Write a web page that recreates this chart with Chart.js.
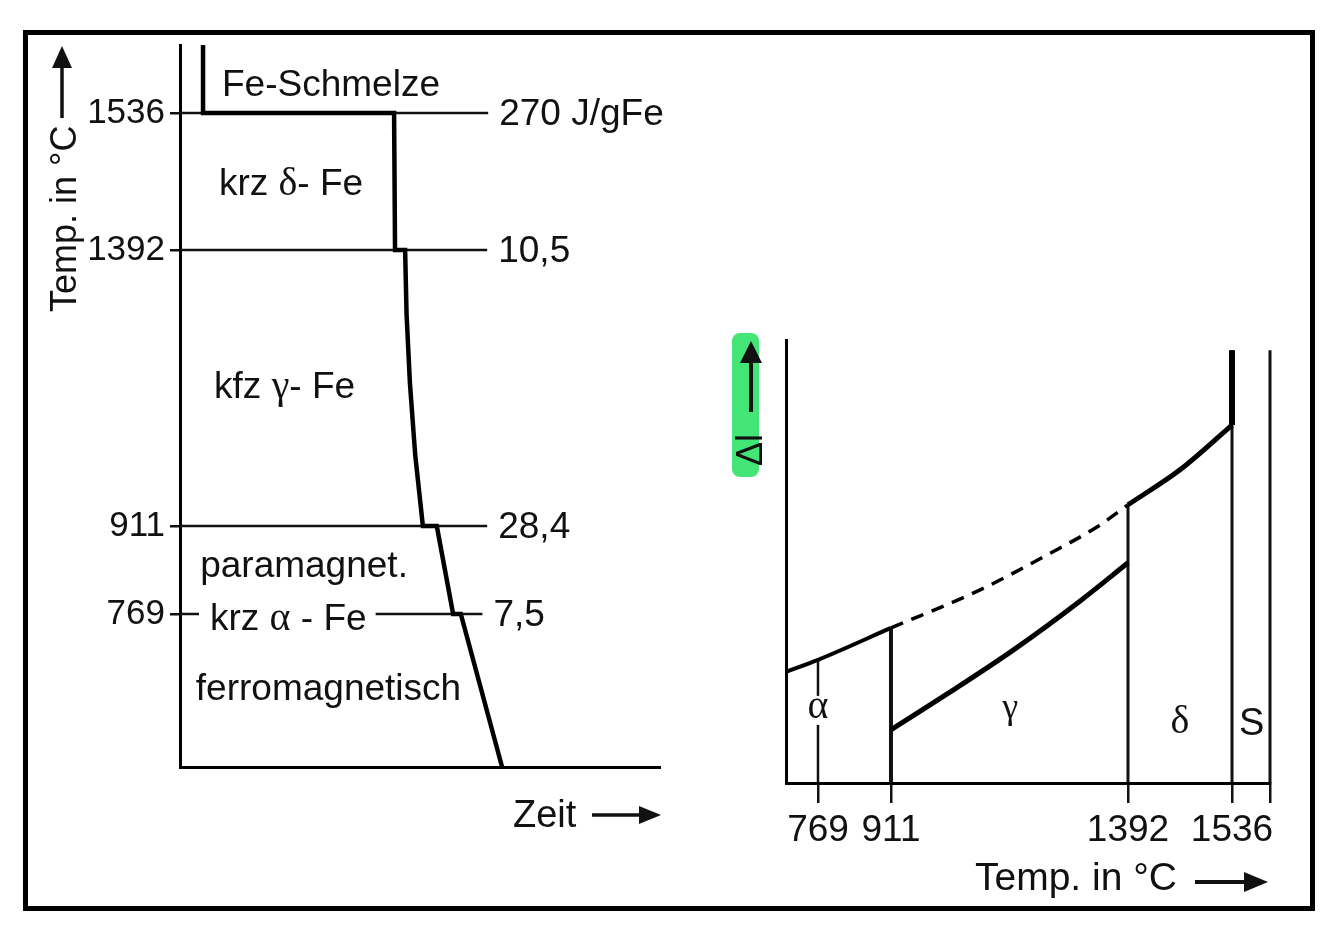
<!DOCTYPE html>
<html><head><meta charset="utf-8">
<script src="https://cdn.jsdelivr.net/npm/chart.js@4.4.1/dist/chart.umd.min.js"></script>
<style>
html,body{margin:0;padding:0;background:#fff;width:1335px;height:933px;overflow:hidden}
#frame{position:absolute;left:23px;top:30px;width:1282px;height:871px;border:5px solid #000}
canvas{position:absolute;left:0;top:0}
</style></head><body>
<div id="frame"></div>
<canvas id="c1" width="1335" height="933"></canvas>
<canvas id="c2" width="1335" height="933"></canvas>
<script>
// ---------------- data: left chart (cooling curve of pure iron) ----------------
const tempTicks = [1536, 1392, 911, 769];
const coolTime  = [4.8, 4.8, 44.6, 44.8, 46.9, 47.2, 47.9, 49.0, 50.6, 53.5, 56.9, 58.5, 67.1];
const coolTemp  = [1610, 1536, 1536, 1392, 1392, 1280, 1160, 1035, 911, 911, 769, 769, 520];
const isoTemp   = [1536, 1392, 911, 769];
const isoEnd    = [64.2, 64.0, 64.0, 63.0];
const heatLabels = ['270 J/gFe', '10,5', '28,4', '7,5'];

// ---------------- data: right chart (dilatometer curve) ----------------
const dilTicks = [769, 911, 1392, 1536, 1590];
const dilTickLabels = ['769', '911', '1392', '1536', ''];
const alphaT = [707, 769, 911],               alphaL = [25.1, 27.8, 35.0];
const dashT  = [911, 1092, 1228, 1329, 1392], dashL  = [35.0, 43.6, 51.5, 57.8, 62.8];
const gammaT = [911, 1025, 1159, 1295, 1392], gammaL = [12.0, 20.1, 30.0, 41.1, 49.7];
const deltaT = [1392, 1464, 1536],            deltaL = [62.8, 70.7, 80.8];
const phaseT   = [769, 911, 1392, 1536, 1590];
const phaseTop = [27.8, 35.0, 62.8, 97.7, 97.7];

const SANS = '"Liberation Sans", Arial, Helvetica, sans-serif';
const SERIF = '"Liberation Serif", "Times New Roman", serif';
const INK = '#111';

// ---------------- piecewise (schematic) scale ----------------
class PiecewiseScale extends Chart.LinearScale {
  _k() { return (this.options.knots || []).map(k => [k[0], k[1]]); }
  getPixelForValue(value) {
    const k = this._k();
    let i = 1;
    while (i < k.length - 1 && value > k[i][0]) i++;
    const a = k[i - 1], b = k[i];
    const f = a[1] + (value - a[0]) * (b[1] - a[1]) / (b[0] - a[0]);
    return this.getPixelForDecimal(f);
  }
  getValueForPixel(pixel) {
    const k = this._k();
    const f = this.getDecimalForPixel(pixel);
    let i = 1;
    while (i < k.length - 1 && f > k[i][1]) i++;
    const a = k[i - 1], b = k[i];
    return a[0] + (f - a[1]) * (b[0] - a[0]) / (b[1] - a[1]);
  }
}
PiecewiseScale.id = 'piecewise';
PiecewiseScale.defaults = Chart.LinearScale.defaults;
Chart.register(PiecewiseScale);

function pts(xs, ys) { return xs.map((x, i) => ({x: x, y: ys[i]})); }
function font(kind, size) { return size + 'px ' + (kind === 'r' ? SERIF : SANS); }
function runsWidth(ctx, runs, size) {
  let w = 0; runs.forEach(r => { ctx.font = font(r[1], r[2] || size); w += ctx.measureText(r[0]).width; }); return w;
}
function drawRuns(ctx, runs, x, y, size, align) {
  const w = runsWidth(ctx, runs, size);
  let cx = align === 'center' ? x - w / 2 : x;
  ctx.textAlign = 'left'; ctx.textBaseline = 'alphabetic'; ctx.fillStyle = INK;
  runs.forEach(r => { ctx.font = font(r[1], r[2] || size); ctx.fillText(r[0], cx, y); cx += ctx.measureText(r[0]).width; });
  return w;
}
function arrow(ctx, x1, y1, x2, y2, headLen, halfW, lw) {
  const dx = x2 - x1, dy = y2 - y1, L = Math.hypot(dx, dy), ux = dx / L, uy = dy / L;
  const bx = x2 - ux * headLen, by = y2 - uy * headLen;
  ctx.save();
  ctx.strokeStyle = INK; ctx.fillStyle = INK; ctx.lineWidth = lw;
  ctx.beginPath(); ctx.moveTo(x1, y1); ctx.lineTo(bx, by); ctx.stroke();
  ctx.beginPath(); ctx.moveTo(x2, y2);
  ctx.lineTo(bx - uy * halfW, by + ux * halfW); ctx.lineTo(bx + uy * halfW, by - ux * halfW);
  ctx.closePath(); ctx.fill();
  ctx.restore();
}

// ---------------- left chart ----------------
const LFS = 37;
const phaseLabels = [
  {runs: [['Fe-Schmelze', 's']], t: 8.75, T: 1555},
  {runs: [['krz ', 's'], ['δ', 'r', 40], ['- Fe', 's']], t: 8.1, T: 1450},
  {runs: [['kfz ', 's'], ['γ', 'r', 40], ['- Fe', 's']], t: 7.1, T: 1134},
  {runs: [['paramagnet.', 's']], t: 4.2, T: 829},
  {runs: [['krz ', 's'], ['α', 'r', 40], [' - Fe', 's']], t: 6.25, T: 743, knock: true},
  {runs: [['ferromagnetisch', 's']], t: 3.3, T: 629}
];

const leftDatasets = [{
  data: pts(coolTime, coolTemp), borderColor: '#000', borderWidth: 4.5, pointRadius: 0,
  tension: 0, borderJoinStyle: 'miter', clip: 30
}];
isoTemp.forEach((T, i) => leftDatasets.push({
  data: [{x: 0, y: T}, {x: isoEnd[i], y: T}], borderColor: INK, borderWidth: 2.5, pointRadius: 0, clip: 30
}));

const leftPlugin = {
  id: 'leftText',
  afterDatasetsDraw(chart) {
    const ctx = chart.ctx, xs = chart.scales.x, ys = chart.scales.y;
    ctx.save();
    phaseLabels.forEach(l => {
      const x = xs.getPixelForValue(l.t), y = ys.getPixelForValue(l.T);
      if (l.knock) {
        const w = runsWidth(ctx, l.runs, LFS);
        ctx.fillStyle = '#fff'; ctx.fillRect(x - 11, y - 30, w + 20, 40);
      }
      drawRuns(ctx, l.runs, x, y, LFS, 'left');
    });
    ctx.font = font('s', LFS); ctx.fillStyle = INK; ctx.textAlign = 'left'; ctx.textBaseline = 'middle';
    heatLabels.forEach((s, i) => {
      ctx.fillText(s, xs.getPixelForValue(isoEnd[i]) + 11, ys.getPixelForValue(isoTemp[i]) + 2);
    });
    // rotated axis title
    const ca = chart.chartArea;
    ctx.save();
    ctx.translate(ca.left - 104, 312); ctx.rotate(-Math.PI / 2);
    ctx.font = font('s', 36); ctx.textAlign = 'left'; ctx.textBaseline = 'alphabetic'; ctx.fillStyle = INK;
    ctx.fillText('Temp. in °C', 0, 0);
    ctx.restore();
    arrow(ctx, 62, 118, 62, 46, 22, 10, 3.5);
    // x title
    ctx.font = font('s', 38); ctx.textAlign = 'left'; ctx.textBaseline = 'alphabetic'; ctx.fillStyle = INK;
    ctx.fillText('Zeit', 513, 827);
    arrow(ctx, 592, 815, 661, 815, 22, 9, 3.5);
    ctx.restore();
  }
};

new Chart(document.getElementById('c1'), {
  type: 'line',
  data: {datasets: leftDatasets},
  options: {
    responsive: false, animation: false, devicePixelRatio: 1,
    layout: {padding: {left: 0, right: 1335 - 660, top: 45, bottom: 933 - 767 - 2}},
    plugins: {legend: {display: false}, tooltip: {enabled: false}},
    scales: {
      x: {type: 'linear', min: 0, max: 100,
          ticks: {display: false}, grid: {display: false, drawTicks: false},
          border: {display: true, color: '#000', width: 3},
          afterFit(s) { s.height = 2; }},
      y: {type: 'piecewise', min: 520, max: 1610,
          knots: [[520, 0], [769, 0.2119], [911, 0.3338], [1392, 0.7161], [1536, 0.9058], [1610, 1]],
          afterBuildTicks(s) { s.ticks = tempTicks.map(v => ({value: v})); },
          ticks: {callback: v => String(v), color: INK, font: {family: SANS, size: 35}, padding: 5, autoSkip: false},
          grid: {display: true, drawOnChartArea: false, drawTicks: true, tickLength: 10, color: INK, lineWidth: 2.5},
          border: {display: true, color: '#000', width: 3},
          afterFit(s) { s.width = 180; }}
    }
  },
  plugins: [leftPlugin]
});

// ---------------- right chart ----------------
const greekLabels = [
  {runs: [['α', 'r', 40]], T: 769, L: 14.7, knock: true},
  {runs: [['γ', 'r', 36]], T: 1153, L: 14.7},
  {runs: [['δ', 'r', 40]], T: 1464, L: 11.3},
  {runs: [['S', 's', 38]], T: 1564, L: 10.8}
];

const rightDatasets = [
  {data: pts(alphaT, alphaL), borderColor: '#000', borderWidth: 4, pointRadius: 0, cubicInterpolationMode: 'monotone', clip: 30},
  {data: pts(dashT, dashL), borderColor: '#000', borderWidth: 3.5, borderDash: [13, 9], pointRadius: 0, cubicInterpolationMode: 'monotone', clip: 30},
  {data: pts(gammaT, gammaL), borderColor: '#000', borderWidth: 5, pointRadius: 0, cubicInterpolationMode: 'monotone', clip: 30},
  {data: pts(deltaT, deltaL), borderColor: '#000', borderWidth: 5, pointRadius: 0, cubicInterpolationMode: 'monotone', clip: 30},
  {data: [{x: 1536, y: deltaL[deltaL.length - 1]}, {x: 1536, y: phaseTop[3]}], borderColor: '#000', borderWidth: 6, pointRadius: 0, clip: 30}
];
const phaseWidths = [2.5, 4, 3, 3, 3];
phaseT.forEach((T, i) => rightDatasets.push({
  data: [{x: T, y: phaseTop[i]}, {x: T, y: 0}], borderColor: INK, borderWidth: phaseWidths[i], pointRadius: 0, clip: 30
}));

const rightPlugin = {
  id: 'rightText',
  beforeDatasetsDraw(chart) {
    const ctx = chart.ctx;
    ctx.save();
    ctx.fillStyle = 'rgba(48,226,104,0.9)';
    ctx.beginPath();
    if (ctx.roundRect) ctx.roundRect(732, 333, 27, 144, 8); else ctx.rect(732, 333, 27, 144);
    ctx.fill();
    ctx.restore();
  },
  afterDatasetsDraw(chart) {
    const ctx = chart.ctx, xs = chart.scales.x, ys = chart.scales.y;
    ctx.save();
    greekLabels.forEach(l => {
      const x = xs.getPixelForValue(l.T), y = ys.getPixelForValue(l.L);
      if (l.knock) { ctx.fillStyle = '#fff'; ctx.fillRect(x - 15, y - 22, 30, 29); }
      drawRuns(ctx, l.runs, x, y, 38, 'center');
    });
    // Δl rotated
    ctx.save();
    ctx.translate(762, 466); ctx.rotate(-Math.PI / 2);
    ctx.font = font('s', 36); ctx.fillStyle = INK; ctx.textAlign = 'left'; ctx.textBaseline = 'alphabetic';
    ctx.fillText('Δl', 0, 0);
    ctx.restore();
    arrow(ctx, 751, 412, 751, 341, 22, 11, 4);
    // x title
    ctx.font = font('s', 39); ctx.fillStyle = INK; ctx.textAlign = 'left'; ctx.textBaseline = 'alphabetic';
    ctx.fillText('Temp. in °C', 975, 890);
    arrow(ctx, 1195, 882, 1268, 882, 24, 10, 4);
    ctx.restore();
  }
};

new Chart(document.getElementById('c2'), {
  type: 'line',
  data: {datasets: rightDatasets},
  options: {
    responsive: false, animation: false, devicePixelRatio: 1,
    layout: {padding: {left: 776, right: 1335 - 1270, top: 340, bottom: 933 - 783 - 100}},
    plugins: {legend: {display: false}, tooltip: {enabled: false}},
    scales: {
      x: {type: 'piecewise', min: 707, max: 1590,
          knots: [[707, 0], [769, 0.0661], [911, 0.2169], [1392, 0.7066], [1536, 0.9215], [1590, 1]],
          afterBuildTicks(s) { s.ticks = dilTicks.map(v => ({value: v})); },
          ticks: {callback: (v, i) => dilTickLabels[i], color: INK, font: {family: SANS, size: 37}, padding: 6, autoSkip: false, maxRotation: 0},
          grid: {display: true, drawOnChartArea: false, drawTicks: true, tickLength: 20, color: INK, lineWidth: 2.5},
          border: {display: true, color: '#000', width: 3},
          afterFit(s) { s.height = 100; }},
      y: {type: 'linear', min: 0, max: 100,
          ticks: {display: false}, grid: {display: false, drawTicks: false},
          border: {display: true, color: '#000', width: 3},
          afterFit(s) { s.width = 10; }}
    }
  },
  plugins: [rightPlugin]
});
</script>
</body></html>
